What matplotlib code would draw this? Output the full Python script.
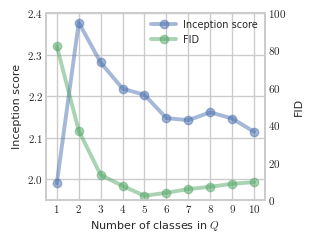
import numpy as np
import matplotlib
matplotlib.use("Agg")
import matplotlib.pyplot as plt
import seaborn as sns
from matplotlib.ticker import FuncFormatter

sns.set_theme(style="whitegrid")
plt.rcParams['mathtext.fontset'] = 'cm'
plt.rcParams['font.family'] = ['DejaVu Sans']

# data
num_classes = [1, 2, 3, 4, 5, 6, 7, 8, 9, 10]
inception = [1.990, 2.377, 2.281, 2.218, 2.203, 2.147, 2.142, 2.161, 2.146, 2.114]
fid = [82.3, 37.1, 13.4, 7.5, 2.2, 3.8, 5.8, 7.0, 8.6, 9.5]

blue = "#4C72B0"
green = "#55A868"

fig = plt.figure(figsize=(3.14, 2.42), dpi=100)
ax = fig.add_axes([0.146, 0.174, 0.698, 0.772])
ax2 = ax.twinx()

l1, = ax.plot(num_classes, inception, color=blue, alpha=0.5, lw=2.8,
              marker='o', ms=6, label='Inception score')
l2, = ax2.plot(num_classes, fid, color=green, alpha=0.5, lw=2.8,
               marker='o', ms=6, label='FID')

ax.set_xlim(0.5, 10.5)
ax.set_ylim(1.95, 2.4)
ax2.set_ylim(0, 100)
ax.set_xticks(num_classes)
ax.set_yticks([2.0, 2.1, 2.2, 2.3, 2.4])
ax2.set_yticks([0, 20, 40, 60, 80, 100])
ax2.grid(False)

ax.xaxis.set_major_formatter(FuncFormatter(lambda v, p: f"${v:.0f}$"))
ax.yaxis.set_major_formatter(FuncFormatter(lambda v, p: f"${v:.1f}$"))
ax2.yaxis.set_major_formatter(FuncFormatter(lambda v, p: f"${v:.0f}$"))

for a in (ax, ax2):
    a.tick_params(labelsize=8, pad=2, length=0)
    for s in a.spines.values():
        s.set_color("#cccccc")

ax.set_xlabel("Number of classes in $Q$", fontsize=8, labelpad=3)
ax.set_ylabel("Inception score", fontsize=8, labelpad=4)
ax2.set_ylabel("FID", fontsize=8, labelpad=6)

ax.legend(handles=[l1, l2], loc='upper right', fontsize=7, frameon=False,
          handlelength=2.5, borderaxespad=0.3)

fig.savefig("out.png", dpi=100)
